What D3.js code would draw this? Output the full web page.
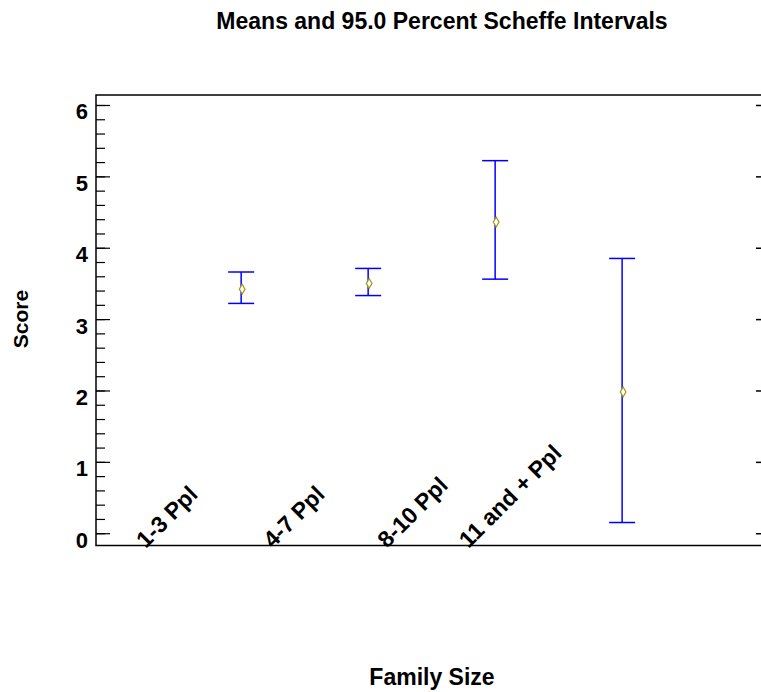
<!DOCTYPE html>
<html>
<head>
<meta charset="utf-8">
<script src="https://cdn.jsdelivr.net/npm/d3@7"></script>
<style>
  body { margin: 0; background: #fff; }
  text { font-family: "Liberation Sans", Arial, sans-serif; font-weight: bold; fill: #000; }
</style>
</head>
<body>
<div class="chart"></div>
<script>
// data
var categories = ["1-3 Ppl", "4-7 Ppl", "8-10 Ppl", "11 and + Ppl"];
var means = [3.42, 3.50, 4.36, 1.98];
var lower = [3.22, 3.33, 3.56, 0.15];
var upper = [3.66, 3.71, 5.22, 3.85];
var yTicks = [0, 1, 2, 3, 4, 5, 6];

var width = 761, height = 692;
var frame = { left: 96, right: 765, top: 95, bottom: 545.5 };

var svg = d3.select('.chart')
  .append('svg')
    .attr('width', width)
    .attr('height', height);

var xScale = d3.scaleLinear()
    .domain([-0.143, 5.125])
    .range([frame.left, frame.right]);

var yScale = d3.scaleLinear()
    .domain([-0.172, 6.14])
    .range([frame.bottom, frame.top]);

// title
svg.append('text')
  .attr('x', 442)
  .attr('y', 29)
  .attr('text-anchor', 'middle')
  .style('font-size', '23px')
  .text('Means and 95.0 Percent Scheffe Intervals');

// frame
svg.append('rect')
  .attr('x', frame.left)
  .attr('y', frame.top)
  .attr('width', frame.right - frame.left)
  .attr('height', frame.bottom - frame.top)
  .attr('fill', 'none')
  .attr('stroke', '#000')
  .attr('stroke-width', 1.5);

// left axis: major + minor ticks pointing inward
var minor = d3.range(0, 6.01, 0.2);
svg.append('g')
  .attr('transform', 'translate(' + frame.left + ',0)')
  .call(d3.axisRight(yScale).tickValues(minor).tickSize(9).tickFormat(''))
  .call(g => g.select('.domain').remove())
  .call(g => g.selectAll('line').attr('stroke-width', 1.2));

svg.append('g')
  .attr('transform', 'translate(' + frame.left + ',0)')
  .call(d3.axisRight(yScale).tickValues(yTicks).tickSize(14).tickFormat(''))
  .call(g => g.select('.domain').remove())
  .call(g => g.selectAll('line').attr('stroke-width', 1.2));

// tick labels
svg.append('g')
  .selectAll('text')
  .data(yTicks)
  .enter()
  .append('text')
    .attr('x', frame.left - 8)
    .attr('y', d => yScale(d) + 7)
    .attr('text-anchor', 'end')
    .attr('dominant-baseline', 'central')
    .style('font-size', '22px')
    .text(d => d);

// right axis: major ticks only
svg.append('g')
  .attr('transform', 'translate(' + frame.right + ',0)')
  .call(d3.axisLeft(yScale).tickValues(yTicks).tickSize(9).tickFormat(''))
  .call(g => g.select('.domain').remove())
  .call(g => g.selectAll('line').attr('stroke-width', 1.5));

// category labels, rotated 45 degrees
var labels = svg.append('g')
  .selectAll('text')
  .data(categories)
  .enter()
  .append('text')
    .style('font-size', '23px')
    .text(d => d);

labels.each(function(d, i) {
  var len = this.getComputedTextLength();
  var x0 = xScale(i + 1) - 20 - len;
  d3.select(this)
    .attr('transform', 'translate(' + x0 + ',' + 549 + ') rotate(-45)');
});

// intervals
var bars = svg.append('g')
  .selectAll('g')
  .data(categories)
  .enter()
  .append('g')
    .attr('transform', (d, i) => 'translate(' + xScale(i + 1) + ',0)');

bars.append('line')
  .attr('y1', (d, i) => yScale(lower[i]))
  .attr('y2', (d, i) => yScale(upper[i]))
  .attr('stroke', '#0000ff')
  .attr('stroke-width', 1.5);

bars.append('line')
  .attr('x1', -13).attr('x2', 13)
  .attr('y1', (d, i) => yScale(upper[i]))
  .attr('y2', (d, i) => yScale(upper[i]))
  .attr('stroke', '#0000ff')
  .attr('stroke-width', 1.5);

bars.append('line')
  .attr('x1', -13).attr('x2', 13)
  .attr('y1', (d, i) => yScale(lower[i]))
  .attr('y2', (d, i) => yScale(lower[i]))
  .attr('stroke', '#0000ff')
  .attr('stroke-width', 1.5);

// mean markers
bars.append('path')
  .attr('d', d3.symbol().type(d3.symbolDiamond).size(28))
  .attr('transform', (d, i) => 'translate(1,' + yScale(means[i]) + ')')
  .attr('fill', '#fff')
  .attr('stroke', '#a09a10')
  .attr('stroke-width', 1.2);

// axis titles
svg.append('text')
  .attr('transform', 'translate(28,' + 319 + ') rotate(-90)')
  .attr('text-anchor', 'middle')
  .style('font-size', '21px')
  .text('Score');

svg.append('text')
  .attr('x', 432)
  .attr('y', 685)
  .attr('text-anchor', 'middle')
  .style('font-size', '23px')
  .text('Family Size');
</script>
</body>
</html>
